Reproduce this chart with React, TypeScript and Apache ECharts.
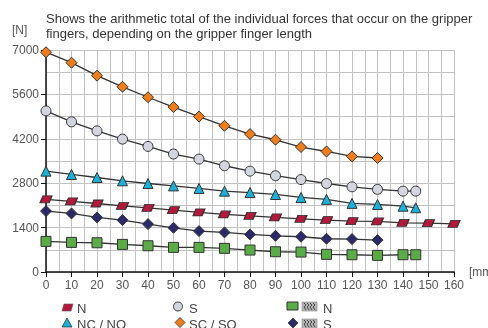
import React, { useEffect, useRef } from "react";
import * as echarts from "echarts";

const titleLines = [
  "Shows the arithmetic total of the individual forces that occur on the gripper",
  "fingers, depending on the gripper finger length",
];
const yUnit = "[N]";
const xUnit = "[mm]";

const xTo130 = [0, 10, 20, 30, 40, 50, 60, 70, 80, 90, 100, 110, 120, 130];
const xTo145 = [0, 10, 20, 30, 40, 50, 60, 70, 80, 90, 100, 110, 120, 130, 140, 145];
const xTo160 = [0, 10, 20, 30, 40, 50, 60, 70, 80, 90, 100, 110, 120, 130, 140, 150, 160];

const scSoValues = [6930, 6600, 6190, 5840, 5510, 5200, 4900, 4610, 4350, 4170, 3940, 3800, 3645, 3595];
const sValues = [5080, 4735, 4450, 4190, 3960, 3720, 3560, 3350, 3180, 3036, 2915, 2790, 2685, 2605, 2550, 2550];
const ncNoValues = [3180, 3075, 2980, 2875, 2790, 2715, 2635, 2550, 2505, 2445, 2350, 2290, 2165, 2130, 2075, 2025];
const nValues = [2290, 2225, 2160, 2085, 2025, 1950, 1880, 1815, 1770, 1720, 1677, 1636, 1604, 1595, 1552, 1541, 1520];
const sGripValues = [1920, 1846, 1721, 1636, 1510, 1394, 1290, 1249, 1186, 1142, 1111, 1048, 1038, 1007];
const nGripValues = [966, 934, 922, 871, 828, 777, 777, 746, 692, 639, 629, 557, 544, 525, 544, 544];

const legendNames = ["N", "S", "N", "NC / NO", "SC / SO", "S"];

const pair = (xs: number[], ys: number[]) => ys.map((v, i) => [xs[i], v]);

const PARALLELOGRAM = "path://M3,0 L12,0 L9,7 L0,7 Z";

export default function App() {
  const ref = useRef<HTMLDivElement>(null);
  useEffect(() => {
    if (!ref.current) return;
    const chart = echarts.init(ref.current, undefined, { renderer: "svg" });
    const lineStyle = { color: "#333", width: 1.3 };
    const mk = (
      name: string,
      data: number[][],
      symbol: string,
      size: number | number[],
      color: string
    ) => ({
      type: "line",
      name,
      data,
      symbol,
      symbolSize: size,
      showAllSymbol: true,
      lineStyle,
      itemStyle: { color, borderColor: "#333", borderWidth: 1 },
      z: 3,
    });
    const font = "Liberation Sans, Arial, sans-serif";
    const legendText = (x: number, y: number, text: string) => ({
      type: "text",
      x,
      y,
      style: { text, fill: "#444", fontSize: 13, fontFamily: font, textVerticalAlign: "middle" },
    });
    const gripIcon = (x: number, y: number) => ({
      type: "group",
      x,
      y,
      children: [
        { type: "rect", shape: { x: 0, y: 0, width: 15, height: 9 }, style: { fill: "#b5b5b5", stroke: "#888", lineWidth: 0.6 } },
        ...[3, 6, 9, 12].map((dx) => ({
          type: "polyline",
          shape: { points: [[dx - 1, 1], [dx + 1, 3], [dx - 1, 5], [dx + 1, 8]] },
          style: { stroke: "#444", lineWidth: 1, fill: "none" },
        })),
      ],
    });
    chart.setOption({
      animation: false,
      textStyle: { fontFamily: font },
      grid: { left: 46, right: 34, top: 50, bottom: 56 },
      xAxis: {
        type: "value",
        min: 0,
        max: 160,
        interval: 10,
        axisLine: { show: true, onZero: false, lineStyle: { color: "#111", width: 1.5 } },
        axisTick: { show: true, length: 5, lineStyle: { color: "#111" } },
        axisLabel: { color: "#555", fontSize: 12, margin: 7, formatter: (v: number) => String(v) },
        splitLine: { show: true, lineStyle: { color: "#c2c2c2", width: 1 } },
        minorTick: { show: false, splitNumber: 2 },
        minorSplitLine: { show: true, lineStyle: { color: "#c2c2c2", width: 1 } },
      },
      yAxis: {
        type: "value",
        min: 0,
        max: 7000,
        interval: 1400,
        axisLine: { show: true, lineStyle: { color: "#111", width: 1.5 } },
        axisTick: { show: true, length: 5, lineStyle: { color: "#111" } },
        axisLabel: { color: "#555", fontSize: 12, margin: 7, formatter: (v: number) => String(v) },
        splitLine: { show: true, lineStyle: { color: "#c2c2c2", width: 1 } },
        minorTick: { show: false, splitNumber: 2 },
        minorSplitLine: { show: true, lineStyle: { color: "#c2c2c2", width: 1 } },
      },
      series: [
        mk("N", pair(xTo160, nValues), PARALLELOGRAM, [12, 7], "#b8173c"),
        mk("S", pair(xTo145, sValues), "circle", 10, "#d3d5df"),
        mk("N grip", pair(xTo145, nGripValues), "rect", 10, "#5aad46"),
        mk("NC / NO", pair(xTo145, ncNoValues), "triangle", 10, "#17b2dc"),
        mk("SC / SO", pair(xTo130, scSoValues), "diamond", 11, "#f27c18"),
        mk("S grip", pair(xTo130, sGripValues), "diamond", 11, "#2c296b"),
      ],
      graphic: [
        {
          type: "text",
          x: 46,
          y: 11,
          style: { text: titleLines.join("\n"), fill: "#333", fontSize: 13, lineHeight: 15, fontFamily: font },
        },
        { type: "text", x: 12, y: 30, style: { text: yUnit, fill: "#555", fontSize: 12, fontFamily: font, textVerticalAlign: "middle" } },
        { type: "text", x: 469, y: 272, style: { text: xUnit, fill: "#555", fontSize: 12, fontFamily: font, textVerticalAlign: "middle" } },
        // row 1
        { type: "polygon", shape: { points: [[64, 304], [73, 304], [71, 311], [62, 311]] }, style: { fill: "#b8173c", stroke: "#555", lineWidth: 0.6 } },
        legendText(77, 308, legendNames[0]),
        { type: "circle", shape: { cx: 178, cy: 306.5, r: 4.5 }, style: { fill: "#d3d5df", stroke: "#333", lineWidth: 1 } },
        legendText(189, 308, legendNames[1]),
        { type: "rect", shape: { x: 287, y: 302, width: 11, height: 8 }, style: { fill: "#5aad46", stroke: "#333", lineWidth: 1 } },
        gripIcon(302, 302),
        legendText(323, 308, legendNames[2]),
        // row 2
        { type: "polygon", shape: { points: [[67, 318], [72, 327], [62, 327]] }, style: { fill: "#17b2dc", stroke: "#333", lineWidth: 0.8 } },
        legendText(77, 324, legendNames[3]),
        { type: "polygon", shape: { points: [[180, 317.5], [185, 322.5], [180, 327.5], [175, 322.5]] }, style: { fill: "#f27c18", stroke: "#333", lineWidth: 0.8 } },
        legendText(189, 324, legendNames[4]),
        { type: "polygon", shape: { points: [[293, 318], [298, 323], [293, 328], [288, 323]] }, style: { fill: "#2c296b", stroke: "#333", lineWidth: 0.8 } },
        gripIcon(302, 319),
        legendText(323, 324, legendNames[5]),
      ],
    });
    return () => chart.dispose();
  }, []);
  return <div ref={ref} style={{ width: 488, height: 328, position: "fixed", left: 0, top: 0 }} />;
}
